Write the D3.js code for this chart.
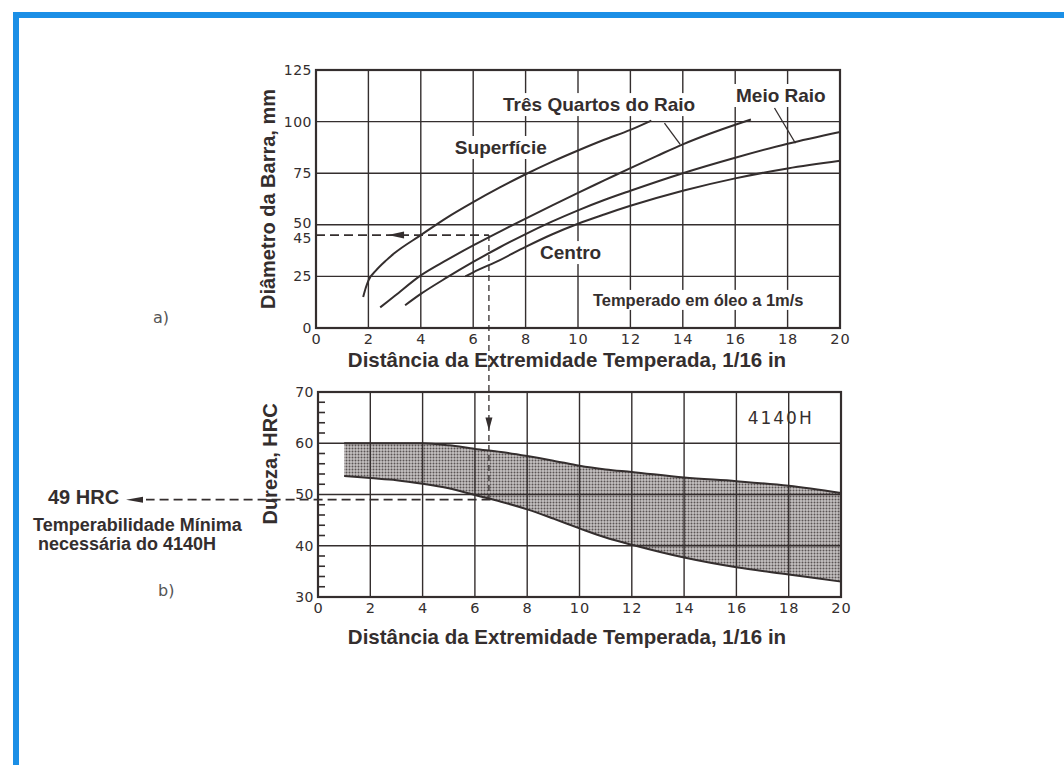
<!DOCTYPE html>
<html>
<head>
<meta charset="utf-8">
<script src="https://cdn.jsdelivr.net/npm/d3@7"></script>
<style>
body { margin: 0; background: #fff; }
</style>
</head>
<body>
<div id="chart"></div>
<script>
// distance ticks (1/16 in), shared by both panels
var distTicks = [0, 2, 4, 6, 8, 10, 12, 14, 16, 18, 20];
var distGrid = [2, 4, 6, 8, 10, 12, 14, 16, 18];

// bar diameter axis (mm)
var diamTicks = [0, 25, 45, 50, 75, 100, 125];
var diamGrid = [25, 50, 75, 100];

// hardness axis (HRC)
var hrcTicks = [30, 40, 50, 60, 70];
var hrcGrid = [40, 50, 60];
var hrcMinor = [32, 34, 36, 38, 42, 44, 46, 48, 52, 54, 56, 58, 62, 64, 66, 68];

// bar diameter vs. distance, one curve per radial position
var superficie = [[1.8, 15], [1.9, 19.5], [2, 23], [2.3, 28], [2.7, 33], [3, 36.3], [4, 45], [5, 53.5], [6, 61], [7, 68], [8, 74.5], [9, 80.5], [10, 86], [11, 91.2], [12, 96], [12.8, 100.5]];
var tresQuartos = [[2.45, 10], [3, 15.5], [4, 25.5], [5, 33], [6, 40], [7, 46.6], [8, 53], [9, 59.3], [10, 65.5], [11, 71.5], [12, 77.5], [13, 83.3], [14, 89], [15, 94], [16, 98.5], [16.6, 101]];
var meioRaio = [[3.4, 11], [4, 16.5], [5, 24.5], [6, 32], [7, 39], [8, 45.5], [9, 51.5], [10, 57], [11, 62], [12, 66.5], [14, 75], [16, 82.5], [18, 89.3], [20, 95]];
var centro = [[5.7, 25], [6, 27], [7, 32.8], [8, 39.3], [9, 45.3], [10, 50.5], [11, 55], [12, 59.2], [14, 66.5], [16, 72.5], [18, 77.3], [20, 81]];

// 4140H hardenability band
var bandX = [1, 2, 3, 4, 5, 6, 7, 8, 9, 10, 11, 12, 14, 16, 18, 20];
var bandMax = [60, 60, 60, 60, 59.6, 58.9, 58.3, 57.5, 56.6, 55.6, 54.9, 54.4, 53.3, 52.6, 51.7, 50.3];
var bandMin = [53.6, 53.2, 52.8, 52.1, 51.2, 49.9, 48.6, 47.1, 45.3, 43.4, 41.6, 40.2, 37.7, 35.8, 34.4, 33];

// read-off path: 45 mm bar -> distance -> minimum hardness
var readDiam = 45;
var readDist = 6.6;
var readHrc = 49;

// colours and fonts
var ink = "#342e2e";
var labelFont = "'Liberation Sans', Arial, sans-serif";
var tickFont = "'DejaVu Sans', sans-serif";

var svg = d3.select("#chart").append("svg")
	.attr("width", 1064)
	.attr("height", 765);

// stippled fill for the band
var pat = svg.append("defs").append("pattern")
	.attr("id", "stipple")
	.attr("width", 3)
	.attr("height", 3)
	.attr("patternUnits", "userSpaceOnUse");
pat.append("rect").attr("width", 3).attr("height", 3).attr("fill", "#c6c2c2");
pat.append("circle").attr("cx", 1.5).attr("cy", 1.5).attr("r", 1).attr("fill", "#5a5454");

// blue frame, top and left
svg.append("rect").attr("x", 13).attr("y", 12).attr("width", 1051).attr("height", 6).attr("fill", "#1b8fe6");
svg.append("rect").attr("x", 13).attr("y", 12).attr("width", 6).attr("height", 753).attr("fill", "#1b8fe6");

// scales
var xTop = d3.scaleLinear().domain([0, 20]).range([316, 840]);
var yTop = d3.scaleLinear().domain([0, 125]).range([328, 70]);
var xBot = d3.scaleLinear().domain([0, 20]).range([318, 841]);
var yBot = d3.scaleLinear().domain([30, 70]).range([597, 392]);

/**
 * draws a bold label, optionally knocking the grid out behind it
 */
function addLabel(g, txt, x, y, size, knockout)
{
	var t = g.append("text")
		.attr("x", x)
		.attr("y", y)
		.attr("font-family", labelFont)
		.attr("font-weight", "bold")
		.attr("font-size", size)
		.attr("fill", ink)
		.text(txt);

	if(knockout)
	{
		var bb = t.node().getBBox();
		g.insert("rect", function () { return t.node(); })
			.attr("x", bb.x - 4)
			.attr("y", bb.y - 1)
			.attr("width", bb.width + 8)
			.attr("height", bb.height + 2)
			.attr("fill", "#fff");
	}
	return t;
}

/**
 * grid, frame and tick labels of one panel
 */
function renderFrame(g, x, y, xt, xg, yt, yg)
{
	var x0 = x.range()[0], x1 = x.range()[1];
	var y0 = y.range()[0], y1 = y.range()[1];

	g.selectAll(".vgrid").data(xg).enter().append("line")
		.attr("x1", function (d) { return x(d); })
		.attr("x2", function (d) { return x(d); })
		.attr("y1", y0).attr("y2", y1)
		.attr("stroke", ink).attr("stroke-width", 1.4);

	g.selectAll(".hgrid").data(yg).enter().append("line")
		.attr("y1", function (d) { return y(d); })
		.attr("y2", function (d) { return y(d); })
		.attr("x1", x0).attr("x2", x1)
		.attr("stroke", ink).attr("stroke-width", 1.4);

	g.append("rect")
		.attr("x", x0).attr("y", y1)
		.attr("width", x1 - x0).attr("height", y0 - y1)
		.attr("fill", "none").attr("stroke", ink).attr("stroke-width", 2.2);

	// x tick labels
	var ax = g.append("g")
		.attr("transform", "translate(0," + y0 + ")")
		.call(d3.axisBottom(x).tickValues(xt).tickSize(0).tickPadding(6));
	ax.select(".domain").remove();
	ax.selectAll("text")
		.attr("font-family", tickFont).attr("font-size", 14.5)
		.attr("fill", ink).attr("letter-spacing", 1);

	// y tick labels
	var ay = g.append("g")
		.attr("transform", "translate(" + x0 + ",0)")
		.call(d3.axisLeft(y).tickValues(yt).tickSize(0).tickPadding(4));
	ay.select(".domain").remove();
	ay.selectAll("text")
		.attr("font-family", tickFont).attr("font-size", 14)
		.attr("fill", ink).attr("letter-spacing", 0.5);
	return ay;
}

/**
 * panel a) bar diameter vs distance
 */
function renderDiameterPanel()
{
	var g = svg.append("g");
	var ay = renderFrame(g, xTop, yTop, distTicks, distGrid, diamTicks, diamGrid);

	// keep the 45 and 50 labels apart
	ay.selectAll(".tick").filter(function (d) { return d === readDiam; })
		.select("text").attr("dy", "0.55em");
	ay.selectAll(".tick").filter(function (d) { return d === 50; })
		.select("text").attr("dy", "0.2em");

	var line = d3.line()
		.x(function (d) { return xTop(d[0]); })
		.y(function (d) { return yTop(d[1]); })
		.curve(d3.curveMonotoneX);

	var labels = g.append("g");
	addLabel(labels, "Três Quartos do Raio", xTop(7.14), yTop(105.1), 19, true);
	addLabel(labels, "Meio Raio", xTop(16.03), yTop(109.5), 19, true);
	addLabel(labels, "Superfície", xTop(5.3), yTop(84.3), 19, true);
	addLabel(labels, "Centro", xTop(8.55), yTop(33.4), 19, true);
	addLabel(labels, "Temperado em óleo a 1m/s", xTop(10.57), yTop(10.7), 16.5, true);

	[superficie, tresQuartos, meioRaio, centro].forEach(function (s) {
		g.append("path")
			.attr("d", line(s))
			.attr("fill", "none")
			.attr("stroke", ink)
			.attr("stroke-width", 2);
	});

	// leader lines from labels to curves
	var leaders = [[[13.3, 99.3], [13.9, 89]], [[17.5, 106.6], [18.3, 89.5]]];
	leaders.forEach(function (l) {
		g.append("line")
			.attr("x1", xTop(l[0][0])).attr("y1", yTop(l[0][1]))
			.attr("x2", xTop(l[1][0])).attr("y2", yTop(l[1][1]))
			.attr("stroke", ink).attr("stroke-width", 1.3);
	});

	// read-off: horizontal dashed line at the chosen diameter
	g.append("line")
		.attr("x1", xTop(0)).attr("x2", xTop(readDist))
		.attr("y1", yTop(readDiam)).attr("y2", yTop(readDiam))
		.attr("stroke", ink).attr("stroke-width", 1.8)
		.attr("stroke-dasharray", "9,5");

	// left pointing arrow
	g.append("path")
		.attr("transform", "translate(" + xTop(2.75) + "," + yTop(readDiam) + ")")
		.attr("d", "M0,0 L16,-3.5 L16,3.5 Z")
		.attr("fill", ink);

	svg.append("text")
		.attr("x", 153).attr("y", 323)
		.attr("font-family", tickFont).attr("font-size", 16)
		.attr("fill", "#555").text("a)");

	addLabel(svg, "Diâmetro da Barra, mm", 0, 0, 20, false)
		.attr("text-anchor", "middle")
		.attr("transform", "translate(275,199) rotate(-90)");

	addLabel(svg, "Distância da Extremidade Temperada, 1/16 in", 567, 367, 20.5, false)
		.attr("text-anchor", "middle");
}

/**
 * panel b) hardness band of 4140H
 */
function renderHardnessPanel()
{
	var g = svg.append("g");

	var band = bandX.map(function (d, i) { return [d, bandMin[i], bandMax[i]]; });

	var area = d3.area()
		.x(function (d) { return xBot(d[0]); })
		.y0(function (d) { return yBot(d[1]); })
		.y1(function (d) { return yBot(d[2]); })
		.curve(d3.curveMonotoneX);

	g.append("path")
		.attr("d", area(band))
		.attr("fill", "url(#stipple)");

	renderFrame(g, xBot, yBot, distTicks, distGrid, hrcTicks, hrcGrid);

	// minor ticks on the hardness axis
	g.selectAll(".minor").data(hrcMinor).enter().append("line")
		.attr("x1", xBot(0)).attr("x2", xBot(0) + 7)
		.attr("y1", function (d) { return yBot(d); })
		.attr("y2", function (d) { return yBot(d); })
		.attr("stroke", ink).attr("stroke-width", 1.6);

	var edge = d3.line()
		.x(function (d) { return xBot(d[0]); })
		.y(function (d) { return yBot(d[1]); })
		.curve(d3.curveMonotoneX);

	g.append("path")
		.attr("d", edge(band.map(function (d) { return [d[0], d[2]]; })))
		.attr("fill", "none").attr("stroke", ink).attr("stroke-width", 2);
	g.append("path")
		.attr("d", edge(band.map(function (d) { return [d[0], d[1]]; })))
		.attr("fill", "none").attr("stroke", ink).attr("stroke-width", 2);

	g.append("text")
		.attr("x", xBot(16.43)).attr("y", yBot(63.8))
		.attr("font-family", tickFont).attr("font-size", 17)
		.attr("letter-spacing", 2)
		.attr("fill", ink).text("4140H");

	// read-off: vertical dashed line from panel a) down to the band
	svg.append("line")
		.attr("x1", xTop(readDist)).attr("x2", xTop(readDist))
		.attr("y1", yTop(readDiam)).attr("y2", yBot(readHrc))
		.attr("stroke", ink).attr("stroke-width", 1.3)
		.attr("stroke-dasharray", "6,4");

	// down pointing arrow
	svg.append("path")
		.attr("transform", "translate(" + xTop(readDist) + "," + yBot(62.5) + ")")
		.attr("d", "M0,0 L-3.5,-13 L3.5,-13 Z")
		.attr("fill", ink);

	// horizontal dashed line out to the minimum hardness label
	svg.append("line")
		.attr("x1", xBot(readDist)).attr("x2", 146)
		.attr("y1", yBot(readHrc)).attr("y2", yBot(readHrc))
		.attr("stroke", ink).attr("stroke-width", 1.8)
		.attr("stroke-dasharray", "9,5");

	svg.append("path")
		.attr("transform", "translate(126," + yBot(readHrc) + ")")
		.attr("d", "M0,0 L17,-3 L17,3 Z")
		.attr("fill", ink);

	addLabel(svg, readHrc + " HRC", 48, 504, 20, false);
	addLabel(svg, "Temperabilidade Mínima", 33, 531, 18, false);
	addLabel(svg, "necessária do 4140H", 38, 550, 18, false);

	svg.append("text")
		.attr("x", 158).attr("y", 596)
		.attr("font-family", tickFont).attr("font-size", 16)
		.attr("fill", "#555").text("b)");

	addLabel(svg, "Dureza, HRC", 0, 0, 20, false)
		.attr("text-anchor", "middle")
		.attr("transform", "translate(277,464) rotate(-90)");

	addLabel(svg, "Distância da Extremidade Temperada, 1/16 in", 567, 644, 20.5, false)
		.attr("text-anchor", "middle");
}

renderDiameterPanel();
renderHardnessPanel();
</script>
</body>
</html>
